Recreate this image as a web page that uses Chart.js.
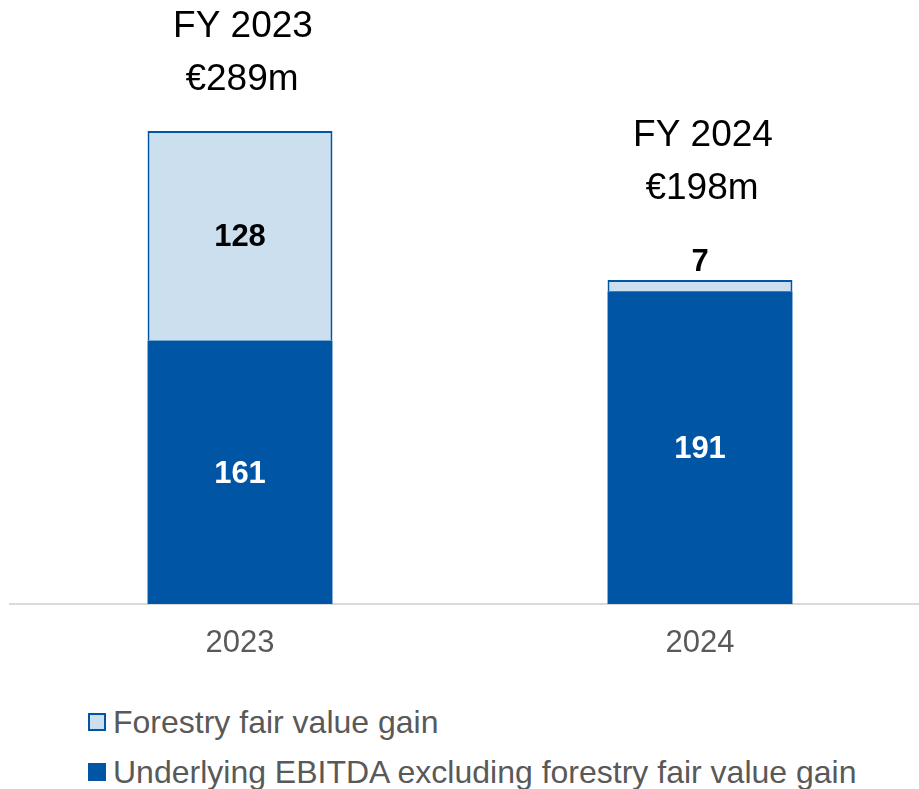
<!DOCTYPE html>
<html>
<head>
<meta charset="utf-8">
<script src="https://cdn.jsdelivr.net/npm/chart.js@4"></script>
<style>
  html, body { margin: 0; padding: 0; background: #fff; overflow: hidden; }
  body { width: 919px; height: 789px; position: relative; font-family: 'Liberation Sans', Arial, sans-serif; }
  #wrap { position: absolute; left: 0; top: 0; width: 930px; height: 680px; }
  #legend { position: absolute; left: 88px; top: 697px; color: #595959; font-size: 32px; }
  .item { height: 50px; line-height: 50px; display: flex; align-items: center; white-space: nowrap; }
  .box { width: 18px; height: 18px; box-sizing: border-box; margin-right: 7px; }
</style>
</head>
<body>
<div id="wrap"><canvas id="chart"></canvas></div>
<div id="legend"></div>
<script>
const years = ['2023', '2024']
const underlying = [161, 191]
const forestry = [128, 7]
const seriesNames = ['Underlying EBITDA excluding forestry fair value gain', 'Forestry fair value gain']

const darkBlue = '#0055A5'
const lightBlue = '#CCDFEF'
const labelColors = ['#ffffff', '#000000']

// values inside a bar, or just above it when the segment is too thin
const valueLabels = {
  id: 'valueLabels',
  afterDatasetsDraw(chart) {
    const ctx = chart.ctx
    ctx.save()
    ctx.font = 'bold 31px "Liberation Sans", Arial, sans-serif'
    ctx.textAlign = 'center'
    ctx.textBaseline = 'middle'
    chart.data.datasets.forEach((ds, di) => {
      const meta = chart.getDatasetMeta(di)
      meta.data.forEach((bar, i) => {
        const h = bar.base - bar.y
        if (h > 40) {
          ctx.fillStyle = labelColors[di]
          ctx.fillText(ds.data[i], bar.x, bar.y + h / 2 + 2)
        } else {
          ctx.fillStyle = '#000000'
          ctx.fillText(ds.data[i], bar.x, bar.y - 17)
        }
      })
    })

    // totals above each stack
    const last = chart.getDatasetMeta(chart.data.datasets.length - 1)
    ctx.font = '37px "Liberation Sans", Arial, sans-serif'
    ctx.fillStyle = '#000000'
    last.data.forEach((bar, i) => {
      const total = underlying[i] + forestry[i]
      const extra = (bar.base - bar.y) > 40 ? 0 : 40
      ctx.fillText('\u20AC' + total + 'm', bar.x + 2, bar.y - 51 - extra)
      ctx.fillText('FY ' + years[i], bar.x + 3, bar.y - 104 - extra)
    })
    ctx.restore()
  }
}

new Chart(document.getElementById('chart'), {
  type: 'bar',
  data: {
    labels: years,
    datasets: [
      { label: seriesNames[0], data: underlying, backgroundColor: darkBlue, borderWidth: 0 },
      { label: seriesNames[1], data: forestry, backgroundColor: lightBlue, borderColor: darkBlue, borderWidth: 2 }
    ]
  },
  options: {
    responsive: true,
    maintainAspectRatio: false,
    animation: false,
    layout: { padding: { left: 10, right: 0, top: 0, bottom: 0 } },
    datasets: { bar: { categoryPercentage: 1, barPercentage: 0.402 } },
    plugins: { legend: { display: false }, tooltip: { enabled: false } },
    scales: {
      x: {
        stacked: true,
        grid: { display: false, drawTicks: false },
        border: { display: true, color: '#d9d9d9', width: 2 },
        ticks: { color: '#595959', padding: 21, font: { size: 31, family: '"Liberation Sans", Arial, sans-serif' } },
        afterFit(scale) { scale.height = 76 }
      },
      y: { stacked: true, display: false, min: 0, max: 369 }
    }
  },
  plugins: [valueLabels]
})

// legend, top series first
const legend = document.getElementById('legend')
const legendItems = [
  { name: seriesNames[1], fill: lightBlue, border: '2px solid ' + darkBlue },
  { name: seriesNames[0], fill: darkBlue, border: 'none' }
]
legendItems.forEach((it) => {
  const row = document.createElement('div')
  row.className = 'item'
  const box = document.createElement('span')
  box.className = 'box'
  box.style.background = it.fill
  box.style.border = it.border
  row.appendChild(box)
  row.appendChild(document.createTextNode(it.name))
  legend.appendChild(row)
})
</script>
</body>
</html>
